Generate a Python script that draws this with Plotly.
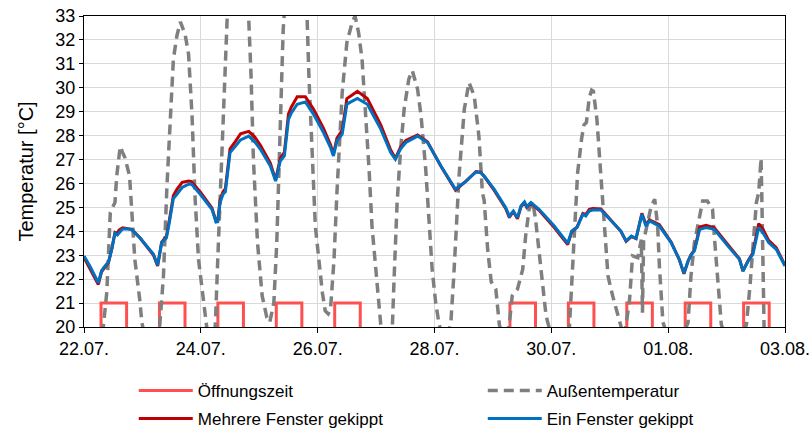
import pandas as pd
import plotly.graph_objects as go

# ---------------- data ----------------
start_date = "2019-07-22"

# Öffnungszeit (opening hours): days with opening, start/end time
open_days = ["2019-07-22", "2019-07-23", "2019-07-24", "2019-07-25", "2019-07-26",
             "2019-07-29", "2019-07-30", "2019-07-31", "2019-08-01", "2019-08-02"]
open_start = "07:00"
open_end = "17:30"
closed_value = 20
open_value = 21

# indoor temperature, time in days since 22.07. 00:00
t_indoor = [0.00, 0.10, 0.245, 0.30, 0.36, 0.42, 0.475, 0.53, 0.57, 0.60, 0.66, 0.75, 0.82, 0.96,
            1.08, 1.19, 1.26, 1.30, 1.33, 1.38, 1.41, 1.46, 1.53, 1.59, 1.68, 1.79, 1.84, 1.99,
            2.10, 2.19, 2.26, 2.29, 2.33, 2.38, 2.42, 2.50, 2.59, 2.68, 2.82, 2.92,
            3.02, 3.19, 3.28, 3.33, 3.36, 3.43, 3.50, 3.55, 3.65, 3.79, 3.93,
            4.10, 4.22, 4.27, 4.33, 4.42, 4.50, 4.56, 4.68, 4.85,
            5.08, 5.25, 5.33, 5.42, 5.51, 5.71, 5.88,
            6.11, 6.36, 6.54, 6.71, 6.79, 6.85,
            7.02, 7.22, 7.28, 7.35, 7.42, 7.48, 7.54, 7.58, 7.65, 7.79,
            8.05, 8.22, 8.28, 8.35, 8.44, 8.54, 8.59, 8.65, 8.71, 8.85,
            9.02, 9.19, 9.28, 9.37, 9.45, 9.55, 9.62, 9.68, 9.85,
            10.05, 10.19, 10.27, 10.34, 10.39, 10.45, 10.54, 10.65, 10.79,
            11.02, 11.22, 11.28, 11.37, 11.45, 11.55, 11.62, 11.72, 11.85, 12.00]

ein_fenster = [22.97, 22.55, 21.85, 22.35, 22.55, 22.72, 23.25, 23.92, 23.85, 23.95, 24.10, 24.10, 24.07, 23.72,
               23.38, 23.04, 22.58, 23.20, 23.53, 23.65, 23.72, 24.36, 25.37, 25.55, 25.83, 25.97, 25.98, 25.55,
               25.22, 24.92, 24.39, 24.40, 25.20, 25.55, 25.65, 27.29, 27.55, 27.82, 27.98, 27.75,
               27.43, 26.73, 26.10, 26.60, 26.94, 27.15, 28.68, 28.95, 29.31, 29.41, 28.89,
               28.13, 27.50, 27.15, 27.78, 28.06, 29.31, 29.40, 29.55, 29.31,
               28.27, 27.29, 27.01, 27.45, 27.71, 27.98, 27.71,
               26.73, 25.76, 26.10, 26.48, 26.45, 26.31,
               25.76, 24.99, 24.64, 24.85, 24.57, 25.06, 25.23, 25.03, 25.20, 24.92,
               24.22, 23.67, 23.50, 24.01, 24.16, 24.71, 24.64, 24.85, 24.89, 24.89,
               24.43, 24.01, 23.60, 23.80, 23.70, 24.71, 24.22, 24.43, 24.22,
               23.53, 22.83, 22.25, 22.76, 23.00, 23.18, 24.08, 24.16, 24.08,
               23.39, 22.83, 22.34, 22.76, 23.04, 24.16, 23.95, 23.53, 23.25, 22.55]

mehrere_fenster = [22.90, 22.45, 21.78, 22.30, 22.52, 22.70, 23.25, 23.95, 23.90, 24.05, 24.15, 24.12, 24.08, 23.72,
                   23.36, 23.00, 22.55, 23.20, 23.55, 23.70, 23.78, 24.45, 25.50, 25.75, 26.05, 26.10, 26.08, 25.65,
                   25.30, 24.98, 24.42, 24.45, 25.30, 25.65, 25.78, 27.45, 27.75, 28.08, 28.18, 27.95,
                   27.60, 26.85, 26.15, 26.70, 27.05, 27.30, 28.90, 29.20, 29.62, 29.62, 29.10,
                   28.30, 27.62, 27.22, 27.90, 28.22, 29.55, 29.65, 29.85, 29.55,
                   28.45, 27.40, 27.05, 27.52, 27.80, 28.03, 27.74,
                   26.72, 25.72, 26.10, 26.50, 26.47, 26.30,
                   25.72, 24.95, 24.58, 24.82, 24.52, 25.02, 25.20, 25.00, 25.18, 24.88,
                   24.16, 23.62, 23.45, 23.98, 24.18, 24.75, 24.70, 24.92, 24.95, 24.93,
                   24.45, 24.00, 23.58, 23.78, 23.70, 24.75, 24.28, 24.48, 24.28,
                   23.55, 22.82, 22.22, 22.75, 23.02, 23.22, 24.18, 24.25, 24.15,
                   23.45, 22.85, 22.34, 22.78, 23.10, 24.32, 24.10, 23.62, 23.32, 22.58]

# outdoor temperature, time in days since 22.07. 00:00
t_outdoor = [0.00, 0.20, 0.30, 0.33, 0.39, 0.45, 0.50, 0.53, 0.56, 0.62, 0.66, 0.70, 0.78, 0.82, 0.87, 0.96, 0.99,
             1.10, 1.25, 1.30, 1.36, 1.42, 1.48, 1.53, 1.59, 1.65, 1.73, 1.79, 1.85, 1.90, 1.96,
             2.05, 2.08, 2.15, 2.22, 2.25, 2.29, 2.36, 2.41, 2.45, 2.55, 2.63, 2.72, 2.82, 2.86, 2.90, 2.97,
             3.05, 3.13, 3.18, 3.25, 3.30, 3.36, 3.41, 3.50, 3.62, 3.72, 3.82, 3.85, 3.91, 3.96,
             4.02, 4.08, 4.13, 4.18, 4.22, 4.28, 4.33, 4.42, 4.50, 4.59, 4.64, 4.70, 4.76, 4.82, 4.88, 4.93, 4.99,
             5.05, 5.08, 5.18, 5.28, 5.31, 5.36, 5.42, 5.48, 5.56, 5.62, 5.71, 5.77, 5.85, 5.91, 5.96,
             6.02, 6.08, 6.18, 6.28, 6.33, 6.42, 6.51, 6.59, 6.68, 6.76, 6.82, 6.85, 6.91, 6.97,
             7.05, 7.11, 7.20, 7.28, 7.33, 7.42, 7.51, 7.56, 7.62, 7.68, 7.73, 7.79, 7.85, 7.91, 7.96,
             8.10, 8.31, 8.34, 8.39, 8.45, 8.52, 8.56, 8.60, 8.65, 8.69, 8.72, 8.78, 8.84, 8.90, 8.97,
             9.05, 9.14, 9.19, 9.24, 9.28, 9.34, 9.39, 9.48, 9.54, 9.56, 9.58, 9.63, 9.71, 9.77, 9.82, 9.85, 9.91,
             10.10, 10.34, 10.39, 10.45, 10.54, 10.59, 10.67, 10.76, 10.79, 10.85, 10.91,
             11.10, 11.34, 11.40, 11.45, 11.51, 11.55, 11.58, 11.59, 11.605, 11.62, 11.65, 12.00]

aussentemperatur = [19.2, 18.2, 18.8, 20.0, 21.44, 24.78, 25.06, 25.2, 26.31, 27.55, 27.3, 27.08, 26.31, 24.92, 22.83, 21.02, 20.18,
                    19.0, 18.5, 20.18, 22.13, 25.9, 29.1, 31.19, 32.17, 32.75, 32.24, 31.4, 28.8, 25.48, 22.83,
                    20.74, 20.1, 19.0, 19.3, 20.18, 22.83, 27.01, 30.49, 32.86, 35.0, 35.6, 35.0, 32.86, 30.49, 27.01, 23.53,
                    21.3, 20.39, 20.2, 21.02, 23.53, 28.4, 32.45, 35.5, 36.5, 35.8, 32.86, 30.49, 26.59, 24.22,
                    22.83, 21.44, 20.67, 20.55, 20.74, 22.83, 25.62, 29.8, 31.89, 32.73, 33.0, 32.31, 31.19, 29.1, 26.59, 24.22, 22.41,
                    21.02, 20.1, 19.0, 20.1, 22.13, 25.2, 27.43, 29.1, 30.36, 30.72, 29.94, 28.82, 26.59, 24.22, 22.41,
                    21.02, 20.1, 19.2, 20.18, 22.13, 26.31, 29.1, 30.22, 29.66, 27.98, 25.62, 25.3, 23.25, 21.9,
                    21.58, 20.1, 19.3, 20.1, 21.3, 21.58, 22.41, 23.8, 24.92, 25.25, 24.5, 23.11, 21.71, 20.46, 20.0,
                    18.8, 20.0, 21.44, 23.95, 26.45, 27.9, 28.45, 28.55, 29.6, 29.9, 29.85, 28.68, 26.59, 24.22, 22.13,
                    21.3, 20.46, 20.0, 19.6, 20.1, 21.16, 22.97, 22.9, 23.65, 20.6, 23.6, 24.2, 25.06, 25.34, 24.22, 22.55, 20.2,
                    18.8, 20.18, 22.13, 23.53, 24.64, 25.27, 25.27, 24.92, 23.8, 22.13, 20.1,
                    18.8, 20.1, 21.71, 23.53, 25.2, 25.62, 26.87, 27.05, 25.2, 20.0, 18.8, 18.2]

x_tick_start = "2019-07-22"
x_end = "2019-08-03"
y_min, y_max = 20, 33

# ---------------- build ----------------
base = pd.Timestamp(start_date)
x_indoor = list(base + pd.to_timedelta(t_indoor, unit="D"))
x_outdoor = list(base + pd.to_timedelta(t_outdoor, unit="D"))

open_x, open_y = [], []
for d in open_days:
    s = pd.Timestamp(f"{d} {open_start}")
    e = pd.Timestamp(f"{d} {open_end}")
    open_x += [s, s, e, e, None]
    open_y += [closed_value, open_value, open_value, closed_value, None]

font_family = "Liberation Sans, Arial, sans-serif"

fig = go.Figure()
fig.add_trace(go.Scatter(x=open_x, y=open_y, mode="lines", name="Öffnungszeit",
                         line=dict(color="#FF5050", width=3), legend="legend"))
fig.add_trace(go.Scatter(x=x_outdoor, y=aussentemperatur, mode="lines", name="Außentemperatur",
                         line=dict(color="#7F7F7F", width=3.5, dash="10px,6px"), legend="legend"))
fig.add_trace(go.Scatter(x=x_indoor, y=mehrere_fenster, mode="lines", name="Mehrere Fenster gekippt",
                         line=dict(color="#C00000", width=3), legend="legend2"))
fig.add_trace(go.Scatter(x=x_indoor, y=ein_fenster, mode="lines", name="Ein Fenster gekippt",
                         line=dict(color="#0070C0", width=3), legend="legend2"))

legend_common = dict(orientation="h", xanchor="left", yanchor="middle", x=0.071,
                     entrywidth=280, entrywidthmode="pixels", itemwidth=54,
                     font=dict(family=font_family, size=17, color="black"),
                     bgcolor="rgba(0,0,0,0)", tracegroupgap=0)

fig.update_layout(
    width=811, height=430,
    margin=dict(l=84, r=26, t=16, b=103, autoexpand=False),
    paper_bgcolor="white", plot_bgcolor="white",
    font=dict(family=font_family, size=18, color="black"),
    legend=dict(y=-0.206, **legend_common),
    legend2=dict(y=-0.296, **legend_common),
    xaxis=dict(type="date", range=[x_tick_start, x_end], tick0=x_tick_start, dtick=2 * 86400000,
               tickformat="%d.%m.", showgrid=True, gridcolor="#D9D9D9", gridwidth=1,
               showline=True, linecolor="black", linewidth=1, mirror=True,
               ticks="outside", ticklen=5, tickcolor="black", zeroline=False,
               tickfont=dict(size=18), automargin=False),
    yaxis=dict(range=[y_min, y_max], dtick=1, showgrid=True, gridcolor="#D9D9D9", gridwidth=1,
               showline=True, linecolor="black", linewidth=1, mirror=True,
               ticks="outside", ticklen=4, tickcolor="black", zeroline=False,
               tickfont=dict(size=18), automargin=False,
               title=dict(text="Temperatur [°C]", font=dict(size=20), standoff=16)),
)

fig.write_html("out.html")
